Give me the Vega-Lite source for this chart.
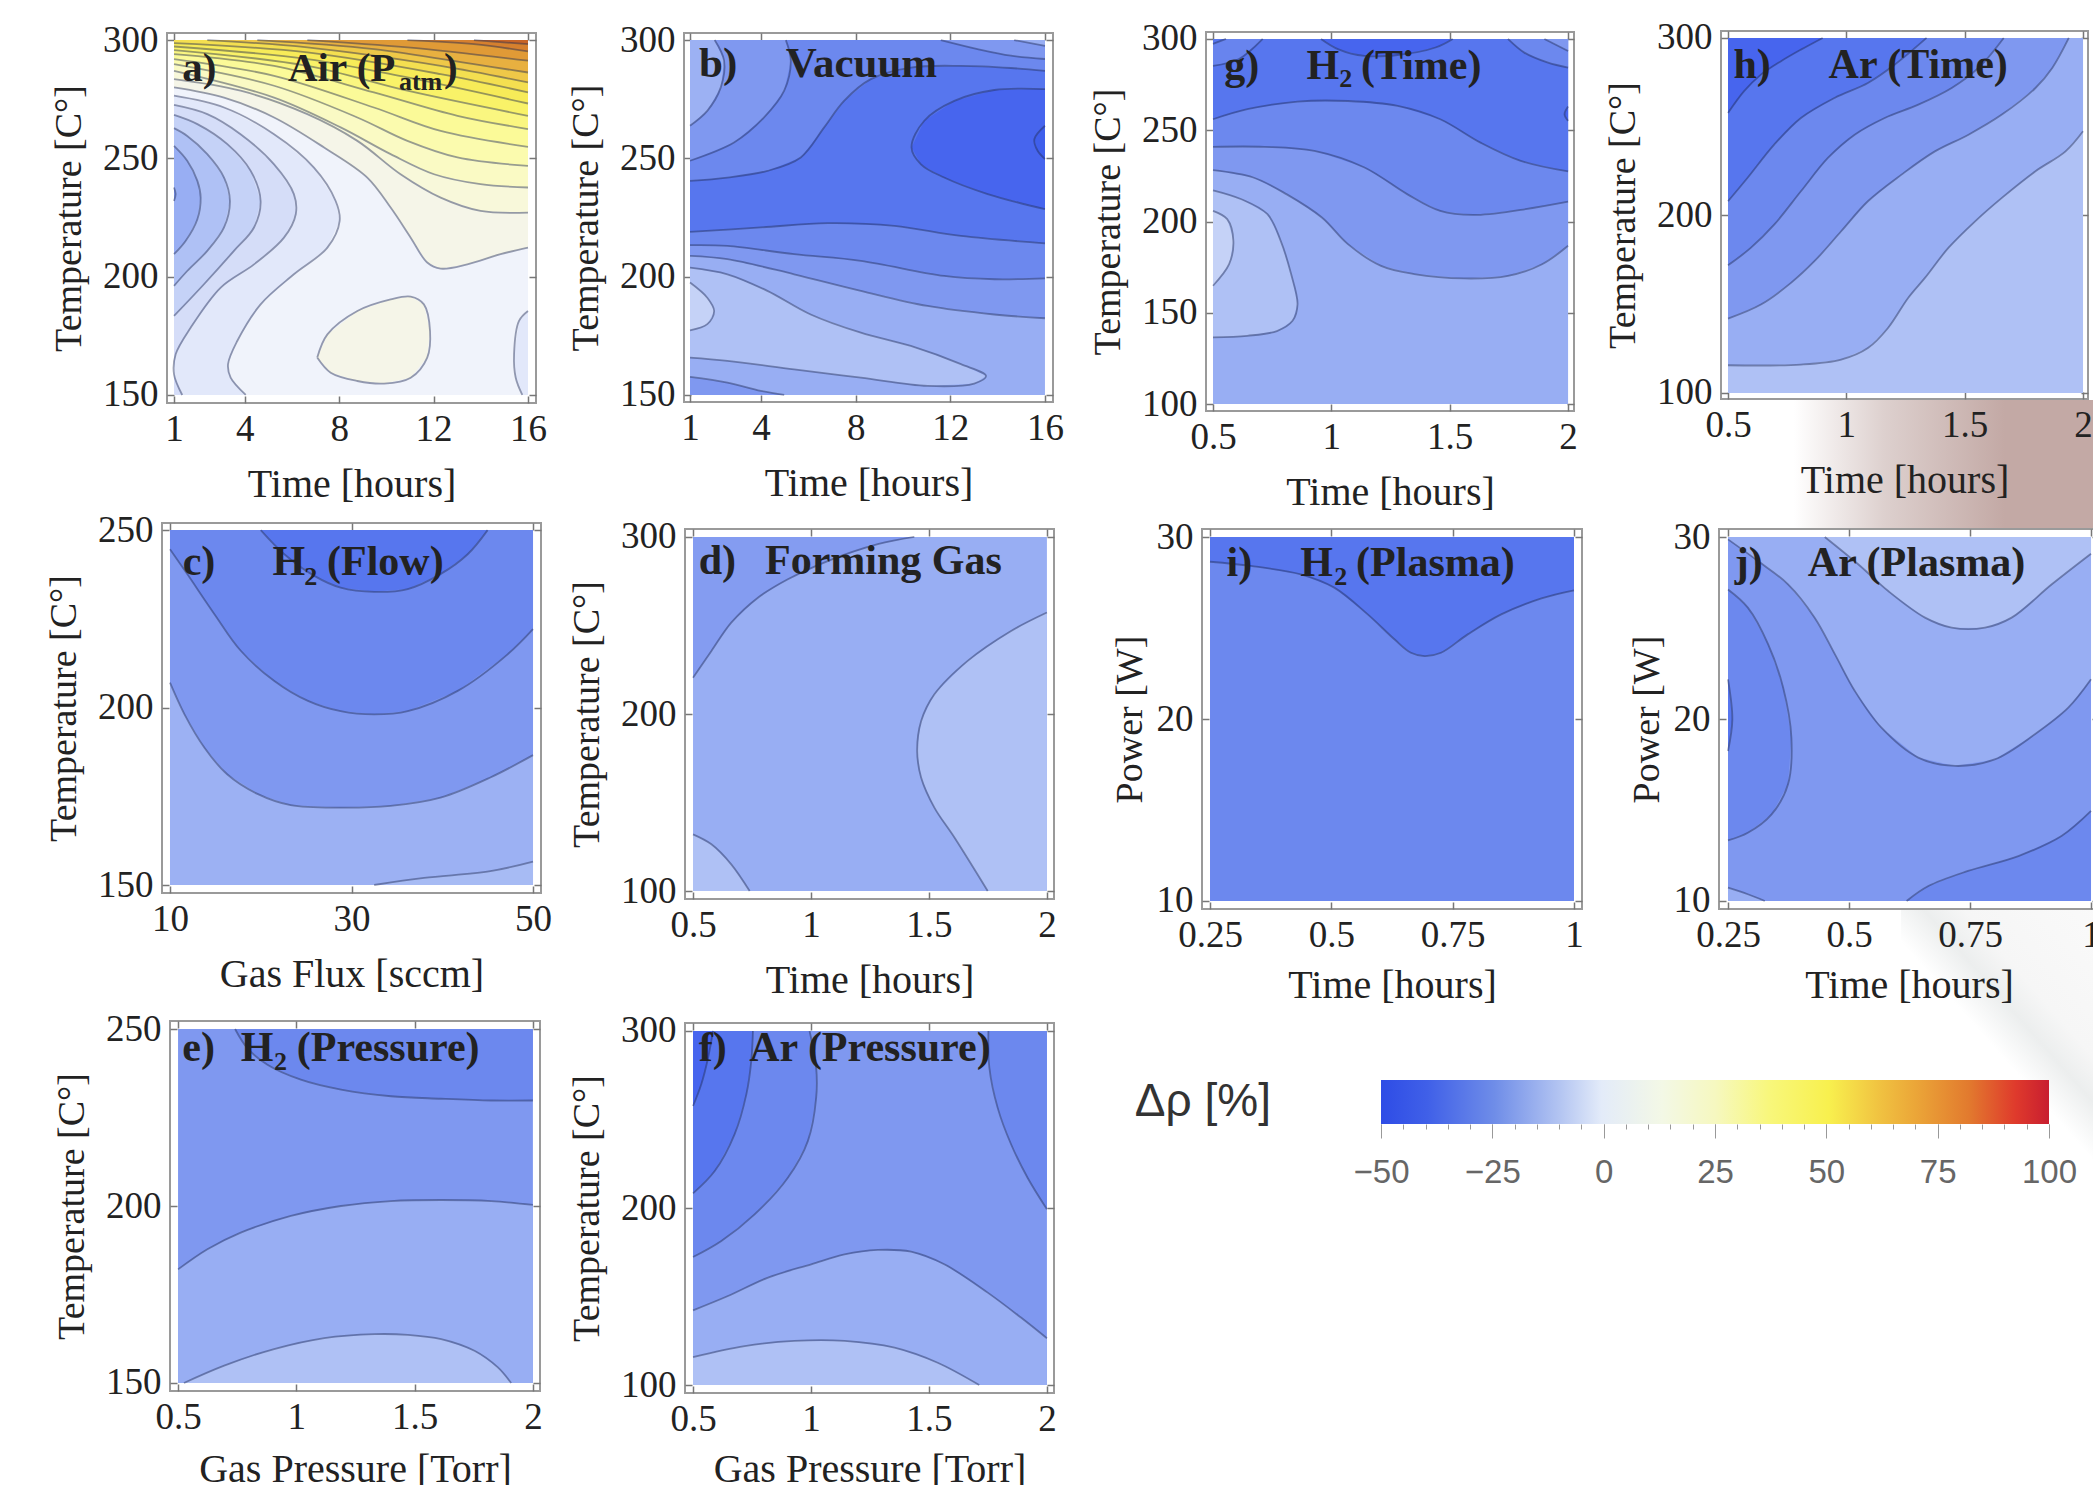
{"$schema":"https://vega.github.io/schema/vega-lite/v6.json","padding":0,"background":"white","bounds":"flush","spacing":0,
"config":{"view":{"stroke":"#9a9a9a","strokeWidth":2,"fill":"white"},"axisX":{"labelPadding":15,"titlePadding":17,"titleFontSize":40},"axisY":{"labelPadding":16,"titlePadding":14,"titleFontSize":38},"axis":{"domain":false,"grid":false,"labelFont":"Liberation Serif","labelFontSize":37,"labelColor":"#222222","titleFont":"Liberation Serif","titleFontWeight":"normal","titleColor":"#222222","tickColor":"#777777","tickWidth":1.5,"tickSize":-7,"labelOverlap":false,"labelFlush":false}},
"datasets":{"z":[{"z":0}],
"a":[
{"r":1,"v":-2,"x":1,"y":150,"c":1},{"r":1,"v":-2,"x":16,"y":150,"c":1},{"r":1,"v":-2,"x":16,"y":300,"c":1},{"r":1,"v":-2,"x":1,"y":300,"c":1},
{"r":2,"v":-5,"x":1,"y":276.5},{"r":2,"v":-5,"x":3.12,"y":271.5},{"r":2,"v":-5,"x":5.24,"y":260.2},{"r":2,"v":-5,"x":6.93,"y":246.1},{"r":2,"v":-5,"x":7.85,"y":232},{"r":2,"v":-5,"x":8.02,"y":223.6},{"r":2,"v":-5,"x":7.5,"y":212.3},{"r":2,"v":-5,"x":6.08,"y":201},{"r":2,"v":-5,"x":4.67,"y":188.3},{"r":2,"v":-5,"x":3.68,"y":172.8},{"r":2,"v":-5,"x":3.29,"y":163},{"r":2,"v":-5,"x":3.4,"y":157.3},{"r":2,"v":-5,"x":4.04,"y":150},{"r":2,"v":-5,"x":1,"y":150,"c":1},
{"r":3,"v":-8,"x":1,"y":272.6},{"r":3,"v":-8,"x":2.41,"y":268.7},{"r":3,"v":-8,"x":3.82,"y":260.2},{"r":3,"v":-8,"x":5.24,"y":247.5},{"r":3,"v":-8,"x":6.08,"y":234.9},{"r":3,"v":-8,"x":6.16,"y":226.4},{"r":3,"v":-8,"x":5.66,"y":216.5},{"r":3,"v":-8,"x":4.39,"y":205.2},{"r":3,"v":-8,"x":2.98,"y":195.4},{"r":3,"v":-8,"x":1.71,"y":178.5},{"r":3,"v":-8,"x":1.07,"y":167.2},{"r":3,"v":-8,"x":1,"y":158.7},{"r":3,"v":-8,"x":1.35,"y":150},{"r":3,"v":-8,"x":1,"y":150,"c":1},
{"r":4,"v":-11,"x":1,"y":268.4},{"r":4,"v":-11,"x":1.99,"y":264.5},{"r":4,"v":-11,"x":3.26,"y":256},{"r":4,"v":-11,"x":4.25,"y":244.7},{"r":4,"v":-11,"x":4.67,"y":232},{"r":4,"v":-11,"x":4.39,"y":220.8},{"r":4,"v":-11,"x":3.54,"y":210.9},{"r":4,"v":-11,"x":2.27,"y":196.8},{"r":4,"v":-11,"x":1,"y":183.4},
{"r":5,"v":-16,"x":1,"y":262.8},{"r":5,"v":-16,"x":1.56,"y":259.5},{"r":5,"v":-16,"x":2.41,"y":251.8},{"r":5,"v":-16,"x":3.12,"y":241.9},{"r":5,"v":-16,"x":3.37,"y":232},{"r":5,"v":-16,"x":3.12,"y":220.8},{"r":5,"v":-16,"x":2.41,"y":210.9},{"r":5,"v":-16,"x":1.56,"y":202.4},{"r":5,"v":-16,"x":1,"y":196.1},
{"r":6,"v":-22,"x":1,"y":255.3},{"r":6,"v":-22,"x":1.56,"y":249},{"r":6,"v":-22,"x":1.99,"y":240.5},{"r":6,"v":-22,"x":2.13,"y":233.4},{"r":6,"v":-22,"x":1.99,"y":224.3},{"r":6,"v":-22,"x":1.49,"y":215.1},{"r":6,"v":-22,"x":1,"y":209.5},
{"r":7,"v":-27,"x":1,"y":237.7},{"r":7,"v":-27,"x":1.07,"y":234.9},{"r":7,"v":-27,"x":1,"y":232},
{"r":8,"v":3,"x":1,"y":280},{"r":8,"v":3,"x":3.12,"y":275.7},{"r":8,"v":3,"x":5.24,"y":267.3},{"r":8,"v":3,"x":7.36,"y":254.6},{"r":8,"v":3,"x":9.19,"y":241.9},{"r":8,"v":3,"x":10.18,"y":229.2},{"r":8,"v":3,"x":11.03,"y":216.5},{"r":8,"v":3,"x":11.73,"y":206},{"r":8,"v":3,"x":12.3,"y":203.4},{"r":8,"v":3,"x":13.43,"y":205.2},{"r":8,"v":3,"x":14.84,"y":209.5},{"r":8,"v":3,"x":16,"y":212.3},{"r":8,"v":3,"x":16,"y":300,"c":1},{"r":8,"v":3,"x":1,"y":300,"c":1},
{"r":9,"v":8,"x":1,"y":283.5},{"r":9,"v":8,"x":3.82,"y":278.6},{"r":9,"v":8,"x":6.65,"y":268.7},{"r":9,"v":8,"x":8.77,"y":257.4},{"r":9,"v":8,"x":10.6,"y":243.3},{"r":9,"v":8,"x":12.3,"y":233.4},{"r":9,"v":8,"x":13.99,"y":227.8},{"r":9,"v":8,"x":16,"y":227.1},{"r":9,"v":8,"x":16,"y":300,"c":1},{"r":9,"v":8,"x":1,"y":300,"c":1},
{"r":10,"v":13,"x":1,"y":287},{"r":10,"v":13,"x":5.24,"y":275.7},{"r":10,"v":13,"x":8.06,"y":263.1},{"r":10,"v":13,"x":10.18,"y":251.8},{"r":10,"v":13,"x":12.02,"y":243.3},{"r":10,"v":13,"x":13.99,"y":239.1},{"r":10,"v":13,"x":16,"y":237.7},{"r":10,"v":13,"x":16,"y":300,"c":1},{"r":10,"v":13,"x":1,"y":300,"c":1},
{"r":11,"v":18,"x":1,"y":289.8},{"r":11,"v":18,"x":5.24,"y":280.7},{"r":11,"v":18,"x":8.77,"y":267.3},{"r":11,"v":18,"x":10.89,"y":257.4},{"r":11,"v":18,"x":13.01,"y":250.4},{"r":11,"v":18,"x":16,"y":246.8},{"r":11,"v":18,"x":16,"y":300,"c":1},{"r":11,"v":18,"x":1,"y":300,"c":1},
{"r":12,"v":23,"x":1,"y":292},{"r":12,"v":23,"x":5.24,"y":284.9},{"r":12,"v":23,"x":9.47,"y":271.5},{"r":12,"v":23,"x":12.3,"y":261.6},{"r":12,"v":23,"x":16,"y":254.9},{"r":12,"v":23,"x":16,"y":300,"c":1},{"r":12,"v":23,"x":1,"y":300,"c":1},
{"r":13,"v":28,"x":1,"y":294.1},{"r":13,"v":28,"x":5.24,"y":289.1},{"r":13,"v":28,"x":9.47,"y":277.9},{"r":13,"v":28,"x":13.01,"y":268},{"r":13,"v":28,"x":16,"y":262.4},{"r":13,"v":28,"x":16,"y":300,"c":1},{"r":13,"v":28,"x":1,"y":300,"c":1},
{"r":14,"v":33,"x":1,"y":295.8},{"r":14,"v":33,"x":6.65,"y":289.1},{"r":14,"v":33,"x":10.89,"y":278.6},{"r":14,"v":33,"x":16,"y":268},{"r":14,"v":33,"x":16,"y":300,"c":1},{"r":14,"v":33,"x":1,"y":300,"c":1},
{"r":15,"v":38,"x":1,"y":297.3},{"r":15,"v":38,"x":6.65,"y":292},{"r":15,"v":38,"x":10.89,"y":284.2},{"r":15,"v":38,"x":16,"y":273.2},{"r":15,"v":38,"x":16,"y":300,"c":1},{"r":15,"v":38,"x":1,"y":300,"c":1},
{"r":16,"v":43,"x":1,"y":298.7},{"r":16,"v":43,"x":6.65,"y":294.8},{"r":16,"v":43,"x":12.3,"y":285.6},{"r":16,"v":43,"x":16,"y":277.9},{"r":16,"v":43,"x":16,"y":300,"c":1},{"r":16,"v":43,"x":1,"y":300,"c":1},
{"r":17,"v":48,"x":2.41,"y":300},{"r":17,"v":48,"x":6.65,"y":296.9},{"r":17,"v":48,"x":12.3,"y":289.1},{"r":17,"v":48,"x":16,"y":282.1},{"r":17,"v":48,"x":16,"y":300,"c":1},
{"r":18,"v":53,"x":4.53,"y":300},{"r":18,"v":53,"x":9.47,"y":296.2},{"r":18,"v":53,"x":13.71,"y":289.8},{"r":18,"v":53,"x":16,"y":286.3},{"r":18,"v":53,"x":16,"y":300,"c":1},
{"r":19,"v":58,"x":6.65,"y":300},{"r":19,"v":58,"x":10.89,"y":296.9},{"r":19,"v":58,"x":16,"y":291.3},{"r":19,"v":58,"x":16,"y":300,"c":1},
{"r":20,"v":63,"x":10.89,"y":300},{"r":20,"v":63,"x":13.71,"y":298.3},{"r":20,"v":63,"x":16,"y":295.2},{"r":20,"v":63,"x":16,"y":300,"c":1},
{"r":21,"v":68,"x":13.71,"y":300},{"r":21,"v":68,"x":16,"y":298.3},{"r":21,"v":68,"x":16,"y":300,"c":1},
{"r":22,"v":3,"x":7.07,"y":165.8},{"r":22,"v":3,"x":7.5,"y":175.6},{"r":22,"v":3,"x":8.77,"y":185.5},{"r":22,"v":3,"x":10.18,"y":190.4},{"r":22,"v":3,"x":11.03,"y":191.6},{"r":22,"v":3,"x":11.59,"y":188.3},{"r":22,"v":3,"x":11.85,"y":177},{"r":22,"v":3,"x":11.73,"y":165.8},{"r":22,"v":3,"x":11.03,"y":157.3},{"r":22,"v":3,"x":9.9,"y":154.8},{"r":22,"v":3,"x":8.77,"y":155.9},{"r":22,"v":3,"x":7.64,"y":159.4},{"r":22,"v":3,"x":7.07,"y":165.8},
{"r":23,"v":-5,"x":16,"y":185.5},{"r":23,"v":-5,"x":15.62,"y":181.3},{"r":23,"v":-5,"x":15.41,"y":167.2},{"r":23,"v":-5,"x":15.48,"y":157.3},{"r":23,"v":-5,"x":15.76,"y":150},{"r":23,"v":-5,"x":16,"y":150,"c":1}],
"b":[
{"r":1,"v":-22,"x":1,"y":150,"c":1},{"r":1,"v":-22,"x":16,"y":150,"c":1},{"r":1,"v":-22,"x":16,"y":300,"c":1},{"r":1,"v":-22,"x":1,"y":300,"c":1},
{"r":2,"v":-27,"x":1,"y":208.8},{"r":2,"v":-27,"x":2.58,"y":207.4},{"r":2,"v":-27,"x":5.4,"y":201},{"r":2,"v":-27,"x":8.22,"y":194},{"r":2,"v":-27,"x":11.04,"y":187.6},{"r":2,"v":-27,"x":13.86,"y":184},{"r":2,"v":-27,"x":16,"y":182.4},{"r":2,"v":-27,"x":16,"y":300,"c":1},{"r":2,"v":-27,"x":1,"y":300,"c":1},
{"r":3,"v":-33,"x":1,"y":213.3},{"r":3,"v":-33,"x":2.58,"y":213},{"r":3,"v":-33,"x":5.4,"y":209.5},{"r":3,"v":-33,"x":8.22,"y":206.7},{"r":3,"v":-33,"x":11.74,"y":200.3},{"r":3,"v":-33,"x":13.86,"y":198.9},{"r":3,"v":-33,"x":16,"y":199.3},{"r":3,"v":-33,"x":16,"y":300,"c":1},{"r":3,"v":-33,"x":1,"y":300,"c":1},
{"r":4,"v":-38,"x":1,"y":218.9},{"r":4,"v":-38,"x":3.99,"y":220.8},{"r":4,"v":-38,"x":6.81,"y":222.6},{"r":4,"v":-38,"x":9.63,"y":221.5},{"r":4,"v":-38,"x":12.45,"y":217.2},{"r":4,"v":-38,"x":16,"y":214.1},{"r":4,"v":-38,"x":16,"y":300,"c":1},{"r":4,"v":-38,"x":1,"y":300,"c":1},
{"r":5,"v":-33,"x":1,"y":240.5},{"r":5,"v":-33,"x":2.58,"y":241.9},{"r":5,"v":-33,"x":4.27,"y":244.7},{"r":5,"v":-33,"x":5.68,"y":250.4},{"r":5,"v":-33,"x":6.67,"y":263.1},{"r":5,"v":-33,"x":7.51,"y":274.3},{"r":5,"v":-33,"x":8.64,"y":283.5},{"r":5,"v":-33,"x":10.33,"y":288.4},{"r":5,"v":-33,"x":12.45,"y":289.1},{"r":5,"v":-33,"x":14.56,"y":288.2},{"r":5,"v":-33,"x":16,"y":287},{"r":5,"v":-33,"x":16,"y":300,"c":1},{"r":5,"v":-33,"x":1,"y":300,"c":1},
{"r":6,"v":-27,"x":5.05,"y":300},{"r":6,"v":-27,"x":5.26,"y":291.3},{"r":6,"v":-27,"x":4.98,"y":278.6},{"r":6,"v":-27,"x":4.13,"y":267.3},{"r":6,"v":-27,"x":2.86,"y":256.7},{"r":6,"v":-27,"x":1,"y":249},{"r":6,"v":-27,"x":1,"y":300,"c":1},
{"r":7,"v":-21,"x":2.04,"y":300},{"r":7,"v":-21,"x":2.44,"y":291.3},{"r":7,"v":-21,"x":2.3,"y":280},{"r":7,"v":-21,"x":1.73,"y":270.1},{"r":7,"v":-21,"x":1,"y":263.8},{"r":7,"v":-21,"x":1,"y":300,"c":1},
{"r":8,"v":-27,"x":11.6,"y":300},{"r":8,"v":-27,"x":13.15,"y":296.2},{"r":8,"v":-27,"x":14.56,"y":293.4},{"r":8,"v":-27,"x":16,"y":292},{"r":8,"v":-27,"x":16,"y":300,"c":1},
{"r":9,"v":-22,"x":14.7,"y":300},{"r":9,"v":-22,"x":16,"y":297.6},{"r":9,"v":-22,"x":16,"y":300,"c":1},
{"r":10,"v":-44,"x":16,"y":279.3},{"r":10,"v":-44,"x":13.86,"y":278.9},{"r":10,"v":-44,"x":12.17,"y":274.3},{"r":10,"v":-44,"x":10.9,"y":265.9},{"r":10,"v":-44,"x":10.36,"y":254.6},{"r":10,"v":-44,"x":10.76,"y":247.5},{"r":10,"v":-44,"x":11.74,"y":241.9},{"r":10,"v":-44,"x":13.58,"y":234.9},{"r":10,"v":-44,"x":16,"y":228.5},
{"r":11,"v":-48,"x":16,"y":263.8},{"r":11,"v":-48,"x":15.55,"y":258.1},{"r":11,"v":-48,"x":15.69,"y":253.2},{"r":11,"v":-48,"x":16,"y":249.7},
{"r":12,"v":-16,"x":1,"y":203.8},{"r":12,"v":-16,"x":2.58,"y":201},{"r":12,"v":-16,"x":4.27,"y":194},{"r":12,"v":-16,"x":6.1,"y":184},{"r":12,"v":-16,"x":8.22,"y":176.3},{"r":12,"v":-16,"x":10.33,"y":170.7},{"r":12,"v":-16,"x":12.45,"y":163},{"r":12,"v":-16,"x":13.51,"y":158},{"r":12,"v":-16,"x":13.01,"y":154.8},{"r":12,"v":-16,"x":11.04,"y":153.8},{"r":12,"v":-16,"x":8.22,"y":157.3},{"r":12,"v":-16,"x":5.4,"y":160.8},{"r":12,"v":-16,"x":2.58,"y":164.4},{"r":12,"v":-16,"x":1,"y":165.8},
{"r":13,"v":-11,"x":1,"y":197.5},{"r":13,"v":-11,"x":1.73,"y":191.1},{"r":13,"v":-11,"x":2.02,"y":185.5},{"r":13,"v":-11,"x":1.73,"y":179.9},{"r":13,"v":-11,"x":1,"y":177.3},
{"r":14,"v":-27,"x":1,"y":157.6},{"r":14,"v":-27,"x":2.58,"y":155.2},{"r":14,"v":-27,"x":3.99,"y":151.7},{"r":14,"v":-27,"x":4.98,"y":150},{"r":14,"v":-27,"x":1,"y":150,"c":1}],
"g":[
{"r":1,"v":-22,"x":0.5,"y":100,"c":1},{"r":1,"v":-22,"x":2,"y":100,"c":1},{"r":1,"v":-22,"x":2,"y":300,"c":1},{"r":1,"v":-22,"x":0.5,"y":300,"c":1},
{"r":2,"v":-27,"x":0.5,"y":228.1},{"r":2,"v":-27,"x":0.67,"y":224.1},{"r":2,"v":-27,"x":0.81,"y":215},{"r":2,"v":-27,"x":0.96,"y":202.2},{"r":2,"v":-27,"x":1.07,"y":187.6},{"r":2,"v":-27,"x":1.21,"y":175.7},{"r":2,"v":-27,"x":1.35,"y":171.2},{"r":2,"v":-27,"x":1.56,"y":168.8},{"r":2,"v":-27,"x":1.746,"y":170.2},{"r":2,"v":-27,"x":1.89,"y":176.6},{"r":2,"v":-27,"x":2,"y":186.7},{"r":2,"v":-27,"x":2,"y":300,"c":1},{"r":2,"v":-27,"x":0.5,"y":300,"c":1},
{"r":3,"v":-33,"x":0.5,"y":240.9},{"r":3,"v":-33,"x":0.716,"y":240.9},{"r":3,"v":-33,"x":0.928,"y":238.7},{"r":3,"v":-33,"x":1.14,"y":229.6},{"r":3,"v":-33,"x":1.32,"y":215},{"r":3,"v":-33,"x":1.46,"y":205.8},{"r":3,"v":-33,"x":1.6,"y":203.6},{"r":3,"v":-33,"x":1.8,"y":206.4},{"r":3,"v":-33,"x":2,"y":210.9},{"r":3,"v":-33,"x":2,"y":300,"c":1},{"r":3,"v":-33,"x":0.5,"y":300,"c":1},
{"r":4,"v":-38,"x":0.5,"y":256},{"r":4,"v":-38,"x":0.645,"y":261.5},{"r":4,"v":-38,"x":0.857,"y":265.7},{"r":4,"v":-38,"x":1.07,"y":266},{"r":4,"v":-38,"x":1.28,"y":263.3},{"r":4,"v":-38,"x":1.46,"y":256},{"r":4,"v":-38,"x":1.63,"y":243.2},{"r":4,"v":-38,"x":1.8,"y":233.2},{"r":4,"v":-38,"x":2,"y":227.4},{"r":4,"v":-38,"x":2,"y":300,"c":1},{"r":4,"v":-38,"x":0.5,"y":300,"c":1},
{"r":5,"v":-44,"x":0.956,"y":300},{"r":5,"v":-44,"x":1.03,"y":294.3},{"r":5,"v":-44,"x":1.14,"y":290.7},{"r":5,"v":-44,"x":1.28,"y":291.2},{"r":5,"v":-44,"x":1.44,"y":295.3},{"r":5,"v":-44,"x":1.513,"y":300},
{"r":6,"v":-33,"x":1.746,"y":300},{"r":6,"v":-33,"x":1.815,"y":292.5},{"r":6,"v":-33,"x":1.915,"y":287},{"r":6,"v":-33,"x":2,"y":284.3},{"r":6,"v":-33,"x":2,"y":300,"c":1},
{"r":7,"v":-27,"x":1.9,"y":300},{"r":7,"v":-27,"x":2,"y":293.4},{"r":7,"v":-27,"x":2,"y":300,"c":1},
{"r":8,"v":-44,"x":2,"y":263},{"r":8,"v":-44,"x":1.985,"y":258.8},{"r":8,"v":-44,"x":2,"y":255.1},
{"r":9,"v":-16,"x":0.5,"y":217.1},{"r":9,"v":-16,"x":0.62,"y":212.2},{"r":9,"v":-16,"x":0.73,"y":204},{"r":9,"v":-16,"x":0.786,"y":189.4},{"r":9,"v":-16,"x":0.83,"y":171.2},{"r":9,"v":-16,"x":0.857,"y":154.7},{"r":9,"v":-16,"x":0.836,"y":145.6},{"r":9,"v":-16,"x":0.77,"y":140},{"r":9,"v":-16,"x":0.645,"y":137.4},{"r":9,"v":-16,"x":0.5,"y":136.5},
{"r":10,"v":-11,"x":0.5,"y":205.8},{"r":10,"v":-11,"x":0.56,"y":201.3},{"r":10,"v":-11,"x":0.586,"y":189.4},{"r":10,"v":-11,"x":0.568,"y":176.6},{"r":10,"v":-11,"x":0.5,"y":164.8},
{"r":11,"v":-34,"x":0.5,"y":285.2},{"r":11,"v":-34,"x":0.61,"y":289},{"r":11,"v":-34,"x":0.71,"y":300},{"r":11,"v":-34,"x":0.5,"y":300,"c":1},
{"r":12,"v":-38,"x":0.5,"y":297.3},{"r":12,"v":-38,"x":0.555,"y":300},{"r":12,"v":-38,"x":0.5,"y":300,"c":1}],
"h":[
{"r":1,"v":-16,"x":0.5,"y":100,"c":1},{"r":1,"v":-16,"x":2,"y":100,"c":1},{"r":1,"v":-16,"x":2,"y":300,"c":1},{"r":1,"v":-16,"x":0.5,"y":300,"c":1},
{"r":2,"v":-22,"x":0.5,"y":115.6},{"r":2,"v":-22,"x":0.808,"y":116},{"r":2,"v":-22,"x":0.978,"y":118.8},{"r":2,"v":-22,"x":1.091,"y":125.3},{"r":2,"v":-22,"x":1.176,"y":136.6},{"r":2,"v":-22,"x":1.261,"y":153.5},{"r":2,"v":-22,"x":1.332,"y":164.8},{"r":2,"v":-22,"x":1.431,"y":181.7},{"r":2,"v":-22,"x":1.544,"y":196.7},{"r":2,"v":-22,"x":1.657,"y":209.9},{"r":2,"v":-22,"x":1.799,"y":224.9},{"r":2,"v":-22,"x":1.926,"y":236.1},{"r":2,"v":-22,"x":2,"y":247.4},{"r":2,"v":-22,"x":2,"y":300,"c":1},{"r":2,"v":-22,"x":0.5,"y":300,"c":1},
{"r":3,"v":-27,"x":0.5,"y":141.9},{"r":3,"v":-27,"x":0.639,"y":149.8},{"r":3,"v":-27,"x":0.766,"y":162},{"r":3,"v":-27,"x":0.865,"y":174.2},{"r":3,"v":-27,"x":0.978,"y":191.1},{"r":3,"v":-27,"x":1.091,"y":208},{"r":3,"v":-27,"x":1.233,"y":223},{"r":3,"v":-27,"x":1.374,"y":236.1},{"r":3,"v":-27,"x":1.516,"y":245.5},{"r":3,"v":-27,"x":1.657,"y":256.8},{"r":3,"v":-27,"x":1.799,"y":271.8},{"r":3,"v":-27,"x":1.87,"y":283.1},{"r":3,"v":-27,"x":1.94,"y":300},{"r":3,"v":-27,"x":0.5,"y":300,"c":1},
{"r":4,"v":-33,"x":0.5,"y":171.9},{"r":4,"v":-33,"x":0.596,"y":181.7},{"r":4,"v":-33,"x":0.695,"y":194.8},{"r":4,"v":-33,"x":0.808,"y":213.6},{"r":4,"v":-33,"x":0.922,"y":232.4},{"r":4,"v":-33,"x":1.035,"y":245.5},{"r":4,"v":-33,"x":1.162,"y":254.9},{"r":4,"v":-33,"x":1.304,"y":262.4},{"r":4,"v":-33,"x":1.445,"y":271.8},{"r":4,"v":-33,"x":1.558,"y":283.1},{"r":4,"v":-33,"x":1.665,"y":300},{"r":4,"v":-33,"x":0.5,"y":300,"c":1},
{"r":5,"v":-38,"x":0.5,"y":208},{"r":5,"v":-38,"x":0.582,"y":221.1},{"r":5,"v":-38,"x":0.695,"y":239.9},{"r":5,"v":-38,"x":0.808,"y":254.9},{"r":5,"v":-38,"x":0.95,"y":266.2},{"r":5,"v":-38,"x":1.091,"y":274.6},{"r":5,"v":-38,"x":1.205,"y":285},{"r":5,"v":-38,"x":1.339,"y":300},{"r":5,"v":-38,"x":0.5,"y":300,"c":1},
{"r":6,"v":-44,"x":0.5,"y":257.7},{"r":6,"v":-44,"x":0.568,"y":270},{"r":6,"v":-44,"x":0.639,"y":279.3},{"r":6,"v":-44,"x":0.724,"y":286.9},{"r":6,"v":-44,"x":0.808,"y":293.4},{"r":6,"v":-44,"x":0.9,"y":300},{"r":6,"v":-44,"x":0.5,"y":300,"c":1}],
"c":[
{"r":1,"v":-21,"x":10,"y":150,"c":1},{"r":1,"v":-21,"x":50,"y":150,"c":1},{"r":1,"v":-21,"x":50,"y":250,"c":1},{"r":1,"v":-21,"x":10,"y":250,"c":1},
{"r":2,"v":-27,"x":10,"y":207},{"r":2,"v":-27,"x":11.6,"y":198.1},{"r":2,"v":-27,"x":13.8,"y":188.7},{"r":2,"v":-27,"x":16.3,"y":181.2},{"r":2,"v":-27,"x":19.7,"y":175.6},{"r":2,"v":-27,"x":23.3,"y":172.5},{"r":2,"v":-27,"x":28.8,"y":171.8},{"r":2,"v":-27,"x":34.3,"y":172.3},{"r":2,"v":-27,"x":39.8,"y":174.6},{"r":2,"v":-27,"x":45.3,"y":180.3},{"r":2,"v":-27,"x":50,"y":186.6},{"r":2,"v":-27,"x":50,"y":250,"c":1},{"r":2,"v":-27,"x":10,"y":250,"c":1},
{"r":3,"v":-33,"x":10,"y":244.6},{"r":3,"v":-33,"x":11.9,"y":237.6},{"r":3,"v":-33,"x":14.9,"y":226.3},{"r":3,"v":-33,"x":17.8,"y":216},{"r":3,"v":-33,"x":21.5,"y":207.5},{"r":3,"v":-33,"x":25.2,"y":201.9},{"r":3,"v":-33,"x":28.8,"y":199},{"r":3,"v":-33,"x":32.5,"y":198.1},{"r":3,"v":-33,"x":36.2,"y":199},{"r":3,"v":-33,"x":41.7,"y":204.7},{"r":3,"v":-33,"x":47.2,"y":215},{"r":3,"v":-33,"x":50,"y":222.1},{"r":3,"v":-33,"x":50,"y":250,"c":1},{"r":3,"v":-33,"x":10,"y":250,"c":1},
{"r":4,"v":-38,"x":20,"y":250},{"r":4,"v":-38,"x":22.6,"y":243.2},{"r":4,"v":-38,"x":25.9,"y":237.1},{"r":4,"v":-38,"x":28.8,"y":233.8},{"r":4,"v":-38,"x":32.5,"y":232.6},{"r":4,"v":-38,"x":36.2,"y":233.4},{"r":4,"v":-38,"x":39.8,"y":237.6},{"r":4,"v":-38,"x":42.8,"y":243.2},{"r":4,"v":-38,"x":45,"y":250},
{"r":5,"v":-18,"x":32.5,"y":150},{"r":5,"v":-18,"x":38,"y":152},{"r":5,"v":-18,"x":45.3,"y":153.9},{"r":5,"v":-18,"x":50,"y":156.6},{"r":5,"v":-18,"x":50,"y":150,"c":1}],
"d":[
{"r":1,"v":-22,"x":0.5,"y":100,"c":1},{"r":1,"v":-22,"x":2,"y":100,"c":1},{"r":1,"v":-22,"x":2,"y":300,"c":1},{"r":1,"v":-22,"x":0.5,"y":300,"c":1},
{"r":2,"v":-26,"x":0.5,"y":220.5},{"r":2,"v":-26,"x":0.578,"y":235.6},{"r":2,"v":-26,"x":0.662,"y":251.6},{"r":2,"v":-26,"x":0.775,"y":265.7},{"r":2,"v":-26,"x":0.902,"y":276.1},{"r":2,"v":-26,"x":1.071,"y":286.4},{"r":2,"v":-26,"x":1.283,"y":295.9},{"r":2,"v":-26,"x":1.438,"y":300},{"r":2,"v":-26,"x":0.5,"y":300,"c":1},
{"r":3,"v":-16,"x":2,"y":257.3},{"r":3,"v":-16,"x":1.848,"y":246.9},{"r":3,"v":-16,"x":1.664,"y":230},{"r":3,"v":-16,"x":1.523,"y":211.1},{"r":3,"v":-16,"x":1.467,"y":196},{"r":3,"v":-16,"x":1.45,"y":179.1},{"r":3,"v":-16,"x":1.467,"y":164},{"r":3,"v":-16,"x":1.523,"y":147.1},{"r":3,"v":-16,"x":1.608,"y":130.2},{"r":3,"v":-16,"x":1.749,"y":100},{"r":3,"v":-16,"x":2,"y":100,"c":1},
{"r":4,"v":-16,"x":0.5,"y":132},{"r":4,"v":-16,"x":0.578,"y":126.4},{"r":4,"v":-16,"x":0.662,"y":115.1},{"r":4,"v":-16,"x":0.74,"y":100},{"r":4,"v":-16,"x":0.5,"y":100,"c":1}],
"i":[
{"r":1,"v":-33,"x":0.25,"y":10,"c":1},{"r":1,"v":-33,"x":1,"y":10,"c":1},{"r":1,"v":-33,"x":1,"y":30,"c":1},{"r":1,"v":-33,"x":0.25,"y":30,"c":1},
{"r":2,"v":-38,"x":0.25,"y":28.64},{"r":2,"v":-38,"x":0.334,"y":28.41},{"r":2,"v":-38,"x":0.437,"y":27.95},{"r":2,"v":-38,"x":0.506,"y":27.22},{"r":2,"v":-38,"x":0.575,"y":25.75},{"r":2,"v":-38,"x":0.63,"y":24.38},{"r":2,"v":-38,"x":0.664,"y":23.64},{"r":2,"v":-38,"x":0.692,"y":23.46},{"r":2,"v":-38,"x":0.726,"y":23.64},{"r":2,"v":-38,"x":0.781,"y":24.65},{"r":2,"v":-38,"x":0.85,"y":25.75},{"r":2,"v":-38,"x":0.933,"y":26.63},{"r":2,"v":-38,"x":1,"y":27.07},{"r":2,"v":-38,"x":1,"y":30,"c":1},{"r":2,"v":-38,"x":0.25,"y":30,"c":1}],
"j":[
{"r":1,"v":-27,"x":0.25,"y":10,"c":1},{"r":1,"v":-27,"x":1,"y":10,"c":1},{"r":1,"v":-27,"x":1,"y":30,"c":1},{"r":1,"v":-27,"x":0.25,"y":30,"c":1},
{"r":2,"v":-22,"x":0.25,"y":29.87},{"r":2,"v":-22,"x":0.312,"y":28.68},{"r":2,"v":-22,"x":0.374,"y":27.4},{"r":2,"v":-22,"x":0.429,"y":25.57},{"r":2,"v":-22,"x":0.471,"y":23.55},{"r":2,"v":-22,"x":0.512,"y":21.54},{"r":2,"v":-22,"x":0.567,"y":19.52},{"r":2,"v":-22,"x":0.643,"y":17.88},{"r":2,"v":-22,"x":0.719,"y":17.42},{"r":2,"v":-22,"x":0.801,"y":17.78},{"r":2,"v":-22,"x":0.884,"y":19.16},{"r":2,"v":-22,"x":0.953,"y":20.62},{"r":2,"v":-22,"x":1,"y":22.18},{"r":2,"v":-22,"x":1,"y":30,"c":1},{"r":2,"v":-22,"x":0.25,"y":30,"c":1},
{"r":3,"v":-16,"x":0.45,"y":30},{"r":3,"v":-16,"x":0.519,"y":28.5},{"r":3,"v":-16,"x":0.581,"y":27.03},{"r":3,"v":-16,"x":0.657,"y":25.57},{"r":3,"v":-16,"x":0.712,"y":25.02},{"r":3,"v":-16,"x":0.781,"y":25.02},{"r":3,"v":-16,"x":0.836,"y":25.57},{"r":3,"v":-16,"x":0.919,"y":27.4},{"r":3,"v":-16,"x":1,"y":29.08},{"r":3,"v":-16,"x":1,"y":30,"c":1},
{"r":4,"v":-33,"x":0.25,"y":27.12},{"r":4,"v":-33,"x":0.291,"y":26.12},{"r":4,"v":-33,"x":0.333,"y":24.1},{"r":4,"v":-33,"x":0.364,"y":21.72},{"r":4,"v":-33,"x":0.381,"y":18.97},{"r":4,"v":-33,"x":0.374,"y":16.41},{"r":4,"v":-33,"x":0.34,"y":14.76},{"r":4,"v":-33,"x":0.291,"y":13.75},{"r":4,"v":-33,"x":0.25,"y":13.33},
{"r":5,"v":-38,"x":0.25,"y":22.18},{"r":5,"v":-38,"x":0.259,"y":19.98},{"r":5,"v":-38,"x":0.25,"y":18.24},
{"r":6,"v":-33,"x":0.619,"y":10},{"r":6,"v":-33,"x":0.664,"y":10.82},{"r":6,"v":-33,"x":0.746,"y":11.65},{"r":6,"v":-33,"x":0.85,"y":12.47},{"r":6,"v":-33,"x":0.939,"y":13.57},{"r":6,"v":-33,"x":1,"y":14.95},{"r":6,"v":-33,"x":1,"y":10,"c":1},
{"r":7,"v":-22,"x":0.25,"y":10.73},{"r":7,"v":-22,"x":0.291,"y":10.37},{"r":7,"v":-22,"x":0.326,"y":10},{"r":7,"v":-22,"x":0.25,"y":10,"c":1}],
"e":[
{"r":1,"v":-27,"x":0.5,"y":150,"c":1},{"r":1,"v":-27,"x":2,"y":150,"c":1},{"r":1,"v":-27,"x":2,"y":250,"c":1},{"r":1,"v":-27,"x":0.5,"y":250,"c":1},
{"r":2,"v":-22,"x":0.5,"y":182.1},{"r":2,"v":-22,"x":0.624,"y":187.8},{"r":2,"v":-22,"x":0.765,"y":192.5},{"r":2,"v":-22,"x":0.977,"y":197.2},{"r":2,"v":-22,"x":1.189,"y":200},{"r":2,"v":-22,"x":1.4,"y":201.4},{"r":2,"v":-22,"x":1.612,"y":201.7},{"r":2,"v":-22,"x":1.824,"y":201.4},{"r":2,"v":-22,"x":2,"y":200.3},{"r":2,"v":-22,"x":2,"y":150,"c":1},{"r":2,"v":-22,"x":0.5,"y":150,"c":1},
{"r":3,"v":-16,"x":0.525,"y":150},{"r":3,"v":-16,"x":0.695,"y":154.9},{"r":3,"v":-16,"x":0.906,"y":159.6},{"r":3,"v":-16,"x":1.118,"y":162.7},{"r":3,"v":-16,"x":1.33,"y":163.8},{"r":3,"v":-16,"x":1.471,"y":163.6},{"r":3,"v":-16,"x":1.612,"y":162.4},{"r":3,"v":-16,"x":1.753,"y":159.1},{"r":3,"v":-16,"x":1.852,"y":154.4},{"r":3,"v":-16,"x":1.908,"y":150},
{"r":4,"v":-33,"x":0.741,"y":250},{"r":4,"v":-33,"x":0.793,"y":244.6},{"r":4,"v":-33,"x":0.878,"y":239.9},{"r":4,"v":-33,"x":1.019,"y":235.7},{"r":4,"v":-33,"x":1.189,"y":232.9},{"r":4,"v":-33,"x":1.4,"y":231},{"r":4,"v":-33,"x":1.612,"y":230.3},{"r":4,"v":-33,"x":1.824,"y":229.8},{"r":4,"v":-33,"x":2,"y":229.8},{"r":4,"v":-33,"x":2,"y":250,"c":1}],
"f":[
{"r":1,"v":-27,"x":0.5,"y":100,"c":1},{"r":1,"v":-27,"x":2,"y":100,"c":1},{"r":1,"v":-27,"x":2,"y":300,"c":1},{"r":1,"v":-27,"x":0.5,"y":300,"c":1},
{"r":2,"v":-22,"x":0.5,"y":142.2},{"r":2,"v":-22,"x":0.648,"y":150.3},{"r":2,"v":-22,"x":0.818,"y":160.7},{"r":2,"v":-22,"x":1.001,"y":168.2},{"r":2,"v":-22,"x":1.142,"y":173.8},{"r":2,"v":-22,"x":1.283,"y":176.3},{"r":2,"v":-22,"x":1.424,"y":175.3},{"r":2,"v":-22,"x":1.565,"y":168.2},{"r":2,"v":-22,"x":1.749,"y":152.2},{"r":2,"v":-22,"x":1.89,"y":138.1},{"r":2,"v":-22,"x":2,"y":126.4},{"r":2,"v":-22,"x":2,"y":100,"c":1},{"r":2,"v":-22,"x":0.5,"y":100,"c":1},
{"r":3,"v":-16,"x":0.5,"y":115.8},{"r":3,"v":-16,"x":0.719,"y":122},{"r":3,"v":-16,"x":0.93,"y":124.9},{"r":3,"v":-16,"x":1.142,"y":124.9},{"r":3,"v":-16,"x":1.354,"y":121.1},{"r":3,"v":-16,"x":1.537,"y":112.6},{"r":3,"v":-16,"x":1.713,"y":100},{"r":3,"v":-16,"x":0.5,"y":100,"c":1},
{"r":4,"v":-33,"x":0.5,"y":172.3},{"r":4,"v":-33,"x":0.62,"y":181.4},{"r":4,"v":-33,"x":0.761,"y":196.4},{"r":4,"v":-33,"x":0.902,"y":217.1},{"r":4,"v":-33,"x":0.987,"y":237.9},{"r":4,"v":-33,"x":1.022,"y":262.3},{"r":4,"v":-33,"x":1.022,"y":279.3},{"r":4,"v":-33,"x":0.994,"y":300},{"r":4,"v":-33,"x":0.5,"y":300,"c":1},
{"r":5,"v":-38,"x":0.5,"y":208.3},{"r":5,"v":-38,"x":0.592,"y":220.9},{"r":5,"v":-38,"x":0.676,"y":241.6},{"r":5,"v":-38,"x":0.726,"y":264.2},{"r":5,"v":-38,"x":0.747,"y":283.1},{"r":5,"v":-38,"x":0.754,"y":300},{"r":5,"v":-38,"x":0.5,"y":300,"c":1},
{"r":6,"v":-44,"x":0.5,"y":257.6},{"r":6,"v":-44,"x":0.535,"y":269.9},{"r":6,"v":-44,"x":0.564,"y":284.9},{"r":6,"v":-44,"x":0.585,"y":300},{"r":6,"v":-44,"x":0.5,"y":300,"c":1},
{"r":7,"v":-33,"x":1.752,"y":300},{"r":7,"v":-33,"x":1.756,"y":279.3},{"r":7,"v":-33,"x":1.791,"y":256.7},{"r":7,"v":-33,"x":1.848,"y":236},{"r":7,"v":-33,"x":1.918,"y":217.1},{"r":7,"v":-33,"x":2,"y":199.3},{"r":7,"v":-33,"x":2,"y":300,"c":1}]
},
"vconcat":[
{"bounds":"flush","spacing":1792,"hconcat":[{"width":1,"height":1,"view":{"stroke":null,"fill":null},"data":{"name":"z"},"mark":{"type":"rule","opacity":0},"encoding":{}},{"bounds":"flush","spacing":398,"vconcat":[{"width":1,"height":1,"view":{"stroke":null,"fill":null},"data":{"name":"z"},"mark":{"type":"rule","opacity":0},"encoding":{}},{"width":301,"height":130,"view":{"stroke":null,"fill":null},"data":{"name":"z"},"mark":{"type":"rect","fill":{"gradient":"linear","x1":0,"y1":0,"x2":1,"y2":0,"stops":[{"offset":0,"color":"#ffffff"},{"offset":0.3,"color":"#DDD0CE"},{"offset":0.7,"color":"#C3A9A5"},{"offset":1,"color":"#C3A9A5"}]}},"encoding":{}}]}]},
{"bounds":"flush","spacing":1899,"hconcat":[{"width":1,"height":1,"view":{"stroke":null,"fill":null},"data":{"name":"z"},"mark":{"type":"rule","opacity":0},"encoding":{}},{"bounds":"flush","spacing":907,"vconcat":[{"width":1,"height":1,"view":{"stroke":null,"fill":null},"data":{"name":"z"},"mark":{"type":"rule","opacity":0},"encoding":{}},{"width":194,"height":392,"view":{"stroke":null,"fill":null},"data":{"name":"z"},"mark":{"type":"rect","fill":{"gradient":"linear","x1":0.45,"y1":0.6,"x2":0.9,"y2":-0.2,"stops":[{"offset":0,"color":"#ffffff"},{"offset":0.25,"color":"#ffffff"},{"offset":0.39,"color":"#ECEEEE"},{"offset":0.5,"color":"#F6F6F6"},{"offset":1,"color":"#FBFBFB"}]}},"encoding":{}}]}]},

{"bounds":"flush","spacing":165,"hconcat":[{"width":1,"height":1,"view":{"stroke":null,"fill":null},"data":{"name":"z"},"mark":{"type":"rule","opacity":0},"encoding":{}},{"bounds":"flush","spacing":31,"vconcat":[{"width":1,"height":1,"view":{"stroke":null,"fill":null},"data":{"name":"z"},"mark":{"type":"rule","opacity":0},"encoding":{}},
{"width":369,"height":370,"resolve":{"axis":{"x":"independent","y":"independent"}},"encoding":{"x":{"field":"x","type":"quantitative","scale":{"domain":[0.703,16.34]},"axis":null},"y":{"field":"y","type":"quantitative","scale":{"domain":[146.6,303]},"axis":null}},
"layer":[
{"data":{"name":"a"},"mark":{"type":"line","strokeOpacity":0},"encoding":{"x":{"field":"x","type":"quantitative","scale":{"domain":[0.703,16.34]},"axis":{"title":"Time [hours]","values":[1,4,8,12,16],"format":".2~f"}},"y":{"field":"y","type":"quantitative","scale":{"domain":[146.6,303]},"axis":{"title":"Temperature [C°]","values":[150,200,250,300],"format":".2~f"}},"fill":{"field":"v","type":"quantitative","legend":null,"scale":{"domain":[-48,-44,-38,-33,-27,-22,-16,-11,-8,-5,-2,3,8,13,18,23,28,33,38,43,48,53,58,63,68],"range":["#3F5FEC","#4765EE","#5776EE","#6C88EE","#7F98F0","#98AEF3","#AFC1F5","#C5D2F7","#D5DDF8","#E2E8FA","#F0F3FB","#F5F5E8","#F8F8DA","#FAFAC4","#FBFBAE","#FBFA98","#FAF680","#F9F268","#F7EB58","#F4DF50","#EFC848","#E8B040","#E09A36","#D6802E","#C86426"]}},"detail":{"field":"r"},"order":{"value":null}}},
{"data":{"name":"a"},"transform":[{"filter":"!datum.c"}],"mark":{"type":"line","interpolate":"catmull-rom","stroke":"#1f2a55","strokeOpacity":0.45,"strokeWidth":1.8},"encoding":{"detail":{"field":"r"},"order":{"value":null}}},
{"data":{"values":[{"x":1.35,"y":287.7,"t":"a)"},{"x":5.83,"y":287.7,"t":"Air (P"},{"x":12.44,"y":287.7,"t":")"}]},"mark":{"type":"text","align":"left","baseline":"middle","font":"Liberation Serif","fontWeight":"bold","fontSize":41,"color":"#222222"},"encoding":{"x":{"field":"x","type":"quantitative","scale":{"domain":[0.703,16.34]},"axis":{"orient":"top","labels":false,"title":null,"values":[1,4,8,12,16]}},"y":{"field":"y","type":"quantitative","scale":{"domain":[146.6,303]},"axis":{"orient":"right","labels":false,"title":null,"values":[150,200,250,300]}},"text":{"field":"t"}}},
{"data":{"values":[{"x":10.53,"y":282.1,"t":"atm"}]},"mark":{"type":"text","align":"left","baseline":"middle","font":"Liberation Serif","fontWeight":"bold","fontSize":26,"color":"#222222"},"encoding":{"text":{"field":"t"}}}
]}]}]},

{"bounds":"flush","spacing":682,"hconcat":[{"width":1,"height":1,"view":{"stroke":null,"fill":null},"data":{"name":"z"},"mark":{"type":"rule","opacity":0},"encoding":{}},{"bounds":"flush","spacing":31,"vconcat":[{"width":1,"height":1,"view":{"stroke":null,"fill":null},"data":{"name":"z"},"mark":{"type":"rule","opacity":0},"encoding":{}},
{"width":369,"height":369,"resolve":{"axis":{"x":"independent","y":"independent"}},"encoding":{"x":{"field":"x","type":"quantitative","scale":{"domain":[0.746,16.34]},"axis":null},"y":{"field":"y","type":"quantitative","scale":{"domain":[147,303]},"axis":null}},
"layer":[
{"data":{"name":"b"},"mark":{"type":"line","strokeOpacity":0},"encoding":{"x":{"field":"x","type":"quantitative","scale":{"domain":[0.746,16.34]},"axis":{"title":"Time [hours]","values":[1,4,8,12,16],"format":".2~f"}},"y":{"field":"y","type":"quantitative","scale":{"domain":[147,303]},"axis":{"title":"Temperature [C°]","values":[150,200,250,300],"format":".2~f"}},"fill":{"field":"v","type":"quantitative","legend":null,"scale":{"domain":[-48,-44,-38,-33,-27,-22,-16,-11,-8,-5,-2,3,8,13,18,23,28,33,38,43,48,53,58,63,68],"range":["#3F5FEC","#4765EE","#5776EE","#6C88EE","#7F98F0","#98AEF3","#AFC1F5","#C5D2F7","#D5DDF8","#E2E8FA","#F0F3FB","#F5F5E8","#F8F8DA","#FAFAC4","#FBFBAE","#FBFA98","#FAF680","#F9F268","#F7EB58","#F4DF50","#EFC848","#E8B040","#E09A36","#D6802E","#C86426"]}},"detail":{"field":"r"},"order":{"value":null}}},
{"data":{"name":"b"},"transform":[{"filter":"!datum.c"}],"mark":{"type":"line","interpolate":"catmull-rom","stroke":"#1f2a55","strokeOpacity":0.45,"strokeWidth":1.8},"encoding":{"detail":{"field":"r"},"order":{"value":null}}},
{"data":{"values":[{"x":1.38,"y":289.8,"t":"b)"},{"x":5.05,"y":289.8,"t":"Vacuum"}]},"mark":{"type":"text","align":"left","baseline":"middle","font":"Liberation Serif","fontWeight":"bold","fontSize":43,"color":"#222222"},"encoding":{"x":{"field":"x","type":"quantitative","scale":{"domain":[0.746,16.34]},"axis":{"orient":"top","labels":false,"title":null,"values":[1,4,8,12,16]}},"y":{"field":"y","type":"quantitative","scale":{"domain":[147,303]},"axis":{"orient":"right","labels":false,"title":null,"values":[150,200,250,300]}},"text":{"field":"t"}}}
]}]}]},

{"bounds":"flush","spacing":1204,"hconcat":[{"width":1,"height":1,"view":{"stroke":null,"fill":null},"data":{"name":"z"},"mark":{"type":"rule","opacity":0},"encoding":{}},{"bounds":"flush","spacing":30,"vconcat":[{"width":1,"height":1,"view":{"stroke":null,"fill":null},"data":{"name":"z"},"mark":{"type":"rule","opacity":0},"encoding":{}},
{"width":368,"height":379,"resolve":{"axis":{"x":"independent","y":"independent"}},"encoding":{"x":{"field":"x","type":"quantitative","scale":{"domain":[0.4704,2.025]},"axis":null},"y":{"field":"y","type":"quantitative","scale":{"domain":[96.2,303.8]},"axis":null}},
"layer":[
{"data":{"name":"g"},"mark":{"type":"line","strokeOpacity":0},"encoding":{"x":{"field":"x","type":"quantitative","scale":{"domain":[0.4704,2.025]},"axis":{"title":"Time [hours]","values":[0.5,1,1.5,2],"format":".2~f"}},"y":{"field":"y","type":"quantitative","scale":{"domain":[96.2,303.8]},"axis":{"title":"Temperature [C°]","values":[100,150,200,250,300],"format":".2~f"}},"fill":{"field":"v","type":"quantitative","legend":null,"scale":{"domain":[-48,-44,-38,-33,-27,-22,-16,-11,-8,-5,-2,3,8,13,18,23,28,33,38,43,48,53,58,63,68],"range":["#3F5FEC","#4765EE","#5776EE","#6C88EE","#7F98F0","#98AEF3","#AFC1F5","#C5D2F7","#D5DDF8","#E2E8FA","#F0F3FB","#F5F5E8","#F8F8DA","#FAFAC4","#FBFBAE","#FBFA98","#FAF680","#F9F268","#F7EB58","#F4DF50","#EFC848","#E8B040","#E09A36","#D6802E","#C86426"]}},"detail":{"field":"r"},"order":{"value":null}}},
{"data":{"name":"g"},"transform":[{"filter":"!datum.c"}],"mark":{"type":"line","interpolate":"catmull-rom","stroke":"#1f2a55","strokeOpacity":0.45,"strokeWidth":1.8},"encoding":{"detail":{"field":"r"},"order":{"value":null}}},
{"data":{"values":[{"x":0.547,"y":285.2,"t":"g)"},{"x":0.895,"y":285.2,"t":"H"},{"x":1.125,"y":285.2,"t":"(Time)"}]},"mark":{"type":"text","align":"left","baseline":"middle","font":"Liberation Serif","fontWeight":"bold","fontSize":42,"color":"#222222"},"encoding":{"x":{"field":"x","type":"quantitative","scale":{"domain":[0.4704,2.025]},"axis":{"orient":"top","labels":false,"title":null,"values":[0.5,1,1.5,2]}},"y":{"field":"y","type":"quantitative","scale":{"domain":[96.2,303.8]},"axis":{"orient":"right","labels":false,"title":null,"values":[100,150,200,250,300]}},"text":{"field":"t"}}},
{"data":{"values":[{"x":1.033,"y":277.9,"t":"2"}]},"mark":{"type":"text","align":"left","baseline":"middle","font":"Liberation Serif","fontWeight":"bold","fontSize":26,"color":"#222222"},"encoding":{"text":{"field":"t"}}}
]}]}]},

{"bounds":"flush","spacing":1719,"hconcat":[{"width":1,"height":1,"view":{"stroke":null,"fill":null},"data":{"name":"z"},"mark":{"type":"rule","opacity":0},"encoding":{}},{"bounds":"flush","spacing":29,"vconcat":[{"width":1,"height":1,"view":{"stroke":null,"fill":null},"data":{"name":"z"},"mark":{"type":"rule","opacity":0},"encoding":{}},
{"width":367,"height":368,"resolve":{"axis":{"x":"independent","y":"independent"}},"encoding":{"x":{"field":"x","type":"quantitative","scale":{"domain":[0.4704,2.021]},"axis":null},"y":{"field":"y","type":"quantitative","scale":{"domain":[96.6,303.9]},"axis":null}},
"layer":[
{"data":{"name":"h"},"mark":{"type":"line","strokeOpacity":0},"encoding":{"x":{"field":"x","type":"quantitative","scale":{"domain":[0.4704,2.021]},"axis":{"title":"Time [hours]","values":[0.5,1,1.5,2],"format":".2~f"}},"y":{"field":"y","type":"quantitative","scale":{"domain":[96.6,303.9]},"axis":{"title":"Temperature [C°]","values":[100,200,300],"format":".2~f"}},"fill":{"field":"v","type":"quantitative","legend":null,"scale":{"domain":[-48,-44,-38,-33,-27,-22,-16,-11,-8,-5,-2,3,8,13,18,23,28,33,38,43,48,53,58,63,68],"range":["#3F5FEC","#4765EE","#5776EE","#6C88EE","#7F98F0","#98AEF3","#AFC1F5","#C5D2F7","#D5DDF8","#E2E8FA","#F0F3FB","#F5F5E8","#F8F8DA","#FAFAC4","#FBFBAE","#FBFA98","#FAF680","#F9F268","#F7EB58","#F4DF50","#EFC848","#E8B040","#E09A36","#D6802E","#C86426"]}},"detail":{"field":"r"},"order":{"value":null}}},
{"data":{"name":"h"},"transform":[{"filter":"!datum.c"}],"mark":{"type":"line","interpolate":"catmull-rom","stroke":"#1f2a55","strokeOpacity":0.45,"strokeWidth":1.8},"encoding":{"detail":{"field":"r"},"order":{"value":null}}},
{"data":{"values":[{"x":0.523,"y":285,"t":"h)"},{"x":0.925,"y":285,"t":"Ar (Time)"}]},"mark":{"type":"text","align":"left","baseline":"middle","font":"Liberation Serif","fontWeight":"bold","fontSize":42,"color":"#222222"},"encoding":{"x":{"field":"x","type":"quantitative","scale":{"domain":[0.4704,2.021]},"axis":{"orient":"top","labels":false,"title":null,"values":[0.5,1,1.5,2]}},"y":{"field":"y","type":"quantitative","scale":{"domain":[96.6,303.9]},"axis":{"orient":"right","labels":false,"title":null,"values":[100,200,300]}},"text":{"field":"t"}}}
]}]}]},

{"bounds":"flush","spacing":160,"hconcat":[{"width":1,"height":1,"view":{"stroke":null,"fill":null},"data":{"name":"z"},"mark":{"type":"rule","opacity":0},"encoding":{}},{"bounds":"flush","spacing":521,"vconcat":[{"width":1,"height":1,"view":{"stroke":null,"fill":null},"data":{"name":"z"},"mark":{"type":"rule","opacity":0},"encoding":{}},
{"width":379,"height":370,"resolve":{"axis":{"x":"independent","y":"independent"}},"encoding":{"x":{"field":"x","type":"quantitative","scale":{"domain":[9.12,50.88]},"axis":null},"y":{"field":"y","type":"quantitative","scale":{"domain":[147.75,252]},"axis":null}},
"layer":[
{"data":{"name":"c"},"mark":{"type":"line","strokeOpacity":0},"encoding":{"x":{"field":"x","type":"quantitative","scale":{"domain":[9.12,50.88]},"axis":{"title":"Gas Flux [sccm]","values":[10,30,50],"format":".2~f"}},"y":{"field":"y","type":"quantitative","scale":{"domain":[147.75,252]},"axis":{"title":"Temperature [C°]","values":[150,200,250],"format":".2~f"}},"fill":{"field":"v","type":"quantitative","legend":null,"scale":{"domain":[-48,-44,-38,-33,-27,-22,-16,-11,-8,-5,-2,3,8,13,18,23,28,33,38,43,48,53,58,63,68],"range":["#3F5FEC","#4765EE","#5776EE","#6C88EE","#7F98F0","#98AEF3","#AFC1F5","#C5D2F7","#D5DDF8","#E2E8FA","#F0F3FB","#F5F5E8","#F8F8DA","#FAFAC4","#FBFBAE","#FBFA98","#FAF680","#F9F268","#F7EB58","#F4DF50","#EFC848","#E8B040","#E09A36","#D6802E","#C86426"]}},"detail":{"field":"r"},"order":{"value":null}}},
{"data":{"name":"c"},"transform":[{"filter":"!datum.c"}],"mark":{"type":"line","interpolate":"catmull-rom","stroke":"#1f2a55","strokeOpacity":0.45,"strokeWidth":1.8},"encoding":{"detail":{"field":"r"},"order":{"value":null}}},
{"data":{"values":[{"x":11.4,"y":240.9,"t":"c)"},{"x":21.3,"y":240.9,"t":"H"},{"x":27.3,"y":240.9,"t":"(Flow)"}]},"mark":{"type":"text","align":"left","baseline":"middle","font":"Liberation Serif","fontWeight":"bold","fontSize":42,"color":"#222222"},"encoding":{"x":{"field":"x","type":"quantitative","scale":{"domain":[9.12,50.88]},"axis":{"orient":"top","labels":false,"title":null,"values":[10,30,50]}},"y":{"field":"y","type":"quantitative","scale":{"domain":[147.75,252]},"axis":{"orient":"right","labels":false,"title":null,"values":[150,200,250]}},"text":{"field":"t"}}},
{"data":{"values":[{"x":24.8,"y":236.8,"t":"2"}]},"mark":{"type":"text","align":"left","baseline":"middle","font":"Liberation Serif","fontWeight":"bold","fontSize":26,"color":"#222222"},"encoding":{"text":{"field":"t"}}}
]}]}]},

{"bounds":"flush","spacing":683,"hconcat":[{"width":1,"height":1,"view":{"stroke":null,"fill":null},"data":{"name":"z"},"mark":{"type":"rule","opacity":0},"encoding":{}},{"bounds":"flush","spacing":527,"vconcat":[{"width":1,"height":1,"view":{"stroke":null,"fill":null},"data":{"name":"z"},"mark":{"type":"rule","opacity":0},"encoding":{}},
{"width":369,"height":370,"resolve":{"axis":{"x":"independent","y":"independent"}},"encoding":{"x":{"field":"x","type":"quantitative","scale":{"domain":[0.466,2.03]},"axis":null},"y":{"field":"y","type":"quantitative","scale":{"domain":[95.5,304.5]},"axis":null}},
"layer":[
{"data":{"name":"d"},"mark":{"type":"line","strokeOpacity":0},"encoding":{"x":{"field":"x","type":"quantitative","scale":{"domain":[0.466,2.03]},"axis":{"title":"Time [hours]","values":[0.5,1,1.5,2],"format":".2~f"}},"y":{"field":"y","type":"quantitative","scale":{"domain":[95.5,304.5]},"axis":{"title":"Temperature [C°]","values":[100,200,300],"format":".2~f"}},"fill":{"field":"v","type":"quantitative","legend":null,"scale":{"domain":[-48,-44,-38,-33,-27,-22,-16,-11,-8,-5,-2,3,8,13,18,23,28,33,38,43,48,53,58,63,68],"range":["#3F5FEC","#4765EE","#5776EE","#6C88EE","#7F98F0","#98AEF3","#AFC1F5","#C5D2F7","#D5DDF8","#E2E8FA","#F0F3FB","#F5F5E8","#F8F8DA","#FAFAC4","#FBFBAE","#FBFA98","#FAF680","#F9F268","#F7EB58","#F4DF50","#EFC848","#E8B040","#E09A36","#D6802E","#C86426"]}},"detail":{"field":"r"},"order":{"value":null}}},
{"data":{"name":"d"},"transform":[{"filter":"!datum.c"}],"mark":{"type":"line","interpolate":"catmull-rom","stroke":"#1f2a55","strokeOpacity":0.45,"strokeWidth":1.8},"encoding":{"detail":{"field":"r"},"order":{"value":null}}},
{"data":{"values":[{"x":0.524,"y":286.4,"t":"d)"},{"x":0.805,"y":286.4,"t":"Forming Gas"}]},"mark":{"type":"text","align":"left","baseline":"middle","font":"Liberation Serif","fontWeight":"bold","fontSize":42,"color":"#222222"},"encoding":{"x":{"field":"x","type":"quantitative","scale":{"domain":[0.466,2.03]},"axis":{"orient":"top","labels":false,"title":null,"values":[0.5,1,1.5,2]}},"y":{"field":"y","type":"quantitative","scale":{"domain":[95.5,304.5]},"axis":{"orient":"right","labels":false,"title":null,"values":[100,200,300]}},"text":{"field":"t"}}}
]}]}]},

{"bounds":"flush","spacing":1200,"hconcat":[{"width":1,"height":1,"view":{"stroke":null,"fill":null},"data":{"name":"z"},"mark":{"type":"rule","opacity":0},"encoding":{}},{"bounds":"flush","spacing":527,"vconcat":[{"width":1,"height":1,"view":{"stroke":null,"fill":null},"data":{"name":"z"},"mark":{"type":"rule","opacity":0},"encoding":{}},
{"width":380,"height":380,"resolve":{"axis":{"x":"independent","y":"independent"}},"encoding":{"x":{"field":"x","type":"quantitative","scale":{"domain":[0.2335,1.0165]},"axis":null},"y":{"field":"y","type":"quantitative","scale":{"domain":[9.56,30.44]},"axis":null}},
"layer":[
{"data":{"name":"i"},"mark":{"type":"line","strokeOpacity":0},"encoding":{"x":{"field":"x","type":"quantitative","scale":{"domain":[0.2335,1.0165]},"axis":{"title":"Time [hours]","values":[0.25,0.5,0.75,1],"format":".2~f","titlePadding":12}},"y":{"field":"y","type":"quantitative","scale":{"domain":[9.56,30.44]},"axis":{"title":"Power [W]","values":[10,20,30],"format":".2~f","titlePadding":7}},"fill":{"field":"v","type":"quantitative","legend":null,"scale":{"domain":[-48,-44,-38,-33,-27,-22,-16,-11,-8,-5,-2,3,8,13,18,23,28,33,38,43,48,53,58,63,68],"range":["#3F5FEC","#4765EE","#5776EE","#6C88EE","#7F98F0","#98AEF3","#AFC1F5","#C5D2F7","#D5DDF8","#E2E8FA","#F0F3FB","#F5F5E8","#F8F8DA","#FAFAC4","#FBFBAE","#FBFA98","#FAF680","#F9F268","#F7EB58","#F4DF50","#EFC848","#E8B040","#E09A36","#D6802E","#C86426"]}},"detail":{"field":"r"},"order":{"value":null}}},
{"data":{"name":"i"},"transform":[{"filter":"!datum.c"}],"mark":{"type":"line","interpolate":"catmull-rom","stroke":"#1f2a55","strokeOpacity":0.45,"strokeWidth":1.8},"encoding":{"detail":{"field":"r"},"order":{"value":null}}},
{"data":{"values":[{"x":0.284,"y":28.59,"t":"i)"},{"x":0.436,"y":28.59,"t":"H"},{"x":0.551,"y":28.59,"t":"(Plasma)"}]},"mark":{"type":"text","align":"left","baseline":"middle","font":"Liberation Serif","fontWeight":"bold","fontSize":42,"color":"#222222"},"encoding":{"x":{"field":"x","type":"quantitative","scale":{"domain":[0.2335,1.0165]},"axis":{"orient":"top","labels":false,"title":null,"values":[0.25,0.5,0.75,1]}},"y":{"field":"y","type":"quantitative","scale":{"domain":[9.56,30.44]},"axis":{"orient":"right","labels":false,"title":null,"values":[10,20,30]}},"text":{"field":"t"}}},
{"data":{"values":[{"x":0.506,"y":27.8,"t":"2"}]},"mark":{"type":"text","align":"left","baseline":"middle","font":"Liberation Serif","fontWeight":"bold","fontSize":26,"color":"#222222"},"encoding":{"text":{"field":"t"}}}
]}]}]},

{"bounds":"flush","spacing":1717,"hconcat":[{"width":1,"height":1,"view":{"stroke":null,"fill":null},"data":{"name":"z"},"mark":{"type":"rule","opacity":0},"encoding":{}},{"bounds":"flush","spacing":527,"vconcat":[{"width":1,"height":1,"view":{"stroke":null,"fill":null},"data":{"name":"z"},"mark":{"type":"rule","opacity":0},"encoding":{}},
{"width":380,"height":380,"resolve":{"axis":{"x":"independent","y":"independent"}},"encoding":{"x":{"field":"x","type":"quantitative","scale":{"domain":[0.2314,1.0165]},"axis":null},"y":{"field":"y","type":"quantitative","scale":{"domain":[9.56,30.44]},"axis":null}},
"layer":[
{"data":{"name":"j"},"mark":{"type":"line","strokeOpacity":0},"encoding":{"x":{"field":"x","type":"quantitative","scale":{"domain":[0.2314,1.0165]},"axis":{"title":"Time [hours]","values":[0.25,0.5,0.75,1],"format":".2~f","titlePadding":12}},"y":{"field":"y","type":"quantitative","scale":{"domain":[9.56,30.44]},"axis":{"title":"Power [W]","values":[10,20,30],"format":".2~f","titlePadding":7}},"fill":{"field":"v","type":"quantitative","legend":null,"scale":{"domain":[-48,-44,-38,-33,-27,-22,-16,-11,-8,-5,-2,3,8,13,18,23,28,33,38,43,48,53,58,63,68],"range":["#3F5FEC","#4765EE","#5776EE","#6C88EE","#7F98F0","#98AEF3","#AFC1F5","#C5D2F7","#D5DDF8","#E2E8FA","#F0F3FB","#F5F5E8","#F8F8DA","#FAFAC4","#FBFBAE","#FBFA98","#FAF680","#F9F268","#F7EB58","#F4DF50","#EFC848","#E8B040","#E09A36","#D6802E","#C86426"]}},"detail":{"field":"r"},"order":{"value":null}}},
{"data":{"name":"j"},"transform":[{"filter":"!datum.c"}],"mark":{"type":"line","interpolate":"catmull-rom","stroke":"#1f2a55","strokeOpacity":0.45,"strokeWidth":1.8},"encoding":{"detail":{"field":"r"},"order":{"value":null}}},
{"data":{"values":[{"x":0.264,"y":28.59,"t":"j)"},{"x":0.415,"y":28.59,"t":"Ar (Plasma)"}]},"mark":{"type":"text","align":"left","baseline":"middle","font":"Liberation Serif","fontWeight":"bold","fontSize":42,"color":"#222222"},"encoding":{"x":{"field":"x","type":"quantitative","scale":{"domain":[0.2314,1.0165]},"axis":{"orient":"top","labels":false,"title":null,"values":[0.25,0.5,0.75,1]}},"y":{"field":"y","type":"quantitative","scale":{"domain":[9.56,30.44]},"axis":{"orient":"right","labels":false,"title":null,"values":[10,20,30]}},"text":{"field":"t"}}}
]}]}]},

{"bounds":"flush","spacing":168,"hconcat":[{"width":1,"height":1,"view":{"stroke":null,"fill":null},"data":{"name":"z"},"mark":{"type":"rule","opacity":0},"encoding":{}},{"bounds":"flush","spacing":1019,"vconcat":[{"width":1,"height":1,"view":{"stroke":null,"fill":null},"data":{"name":"z"},"mark":{"type":"rule","opacity":0},"encoding":{}},
{"width":370,"height":370,"resolve":{"axis":{"x":"independent","y":"independent"}},"encoding":{"x":{"field":"x","type":"quantitative","scale":{"domain":[0.466,2.03]},"axis":null},"y":{"field":"y","type":"quantitative","scale":{"domain":[147.74,252.26]},"axis":null}},
"layer":[
{"data":{"name":"e"},"mark":{"type":"line","strokeOpacity":0},"encoding":{"x":{"field":"x","type":"quantitative","scale":{"domain":[0.466,2.03]},"axis":{"title":"Gas Pressure [Torr]","values":[0.5,1,1.5,2],"format":".2~f","titlePadding":14}},"y":{"field":"y","type":"quantitative","scale":{"domain":[147.74,252.26]},"axis":{"title":"Temperature [C°]","values":[150,200,250],"format":".2~f"}},"fill":{"field":"v","type":"quantitative","legend":null,"scale":{"domain":[-48,-44,-38,-33,-27,-22,-16,-11,-8,-5,-2,3,8,13,18,23,28,33,38,43,48,53,58,63,68],"range":["#3F5FEC","#4765EE","#5776EE","#6C88EE","#7F98F0","#98AEF3","#AFC1F5","#C5D2F7","#D5DDF8","#E2E8FA","#F0F3FB","#F5F5E8","#F8F8DA","#FAFAC4","#FBFBAE","#FBFA98","#FAF680","#F9F268","#F7EB58","#F4DF50","#EFC848","#E8B040","#E09A36","#D6802E","#C86426"]}},"detail":{"field":"r"},"order":{"value":null}}},
{"data":{"name":"e"},"transform":[{"filter":"!datum.c"}],"mark":{"type":"line","interpolate":"catmull-rom","stroke":"#1f2a55","strokeOpacity":0.45,"strokeWidth":1.8},"encoding":{"detail":{"field":"r"},"order":{"value":null}}},
{"data":{"values":[{"x":0.518,"y":244.6,"t":"e)"},{"x":0.765,"y":244.6,"t":"H"},{"x":1.002,"y":244.6,"t":"(Pressure)"}]},"mark":{"type":"text","align":"left","baseline":"middle","font":"Liberation Serif","fontWeight":"bold","fontSize":42,"color":"#222222"},"encoding":{"x":{"field":"x","type":"quantitative","scale":{"domain":[0.466,2.03]},"axis":{"orient":"top","labels":false,"title":null,"values":[0.5,1,1.5,2]}},"y":{"field":"y","type":"quantitative","scale":{"domain":[147.74,252.26]},"axis":{"orient":"right","labels":false,"title":null,"values":[150,200,250]}},"text":{"field":"t"}}},
{"data":{"values":[{"x":0.906,"y":240.7,"t":"2"}]},"mark":{"type":"text","align":"left","baseline":"middle","font":"Liberation Serif","fontWeight":"bold","fontSize":26,"color":"#222222"},"encoding":{"text":{"field":"t"}}}
]}]}]},

{"bounds":"flush","spacing":683,"hconcat":[{"width":1,"height":1,"view":{"stroke":null,"fill":null},"data":{"name":"z"},"mark":{"type":"rule","opacity":0},"encoding":{}},{"bounds":"flush","spacing":1021,"vconcat":[{"width":1,"height":1,"view":{"stroke":null,"fill":null},"data":{"name":"z"},"mark":{"type":"rule","opacity":0},"encoding":{}},
{"width":369,"height":370,"resolve":{"axis":{"x":"independent","y":"independent"}},"encoding":{"x":{"field":"x","type":"quantitative","scale":{"domain":[0.466,2.03]},"axis":null},"y":{"field":"y","type":"quantitative","scale":{"domain":[95.5,304.5]},"axis":null}},
"layer":[
{"data":{"name":"f"},"mark":{"type":"line","strokeOpacity":0},"encoding":{"x":{"field":"x","type":"quantitative","scale":{"domain":[0.466,2.03]},"axis":{"title":"Gas Pressure [Torr]","values":[0.5,1,1.5,2],"format":".2~f","titlePadding":12}},"y":{"field":"y","type":"quantitative","scale":{"domain":[95.5,304.5]},"axis":{"title":"Temperature [C°]","values":[100,200,300],"format":".2~f"}},"fill":{"field":"v","type":"quantitative","legend":null,"scale":{"domain":[-48,-44,-38,-33,-27,-22,-16,-11,-8,-5,-2,3,8,13,18,23,28,33,38,43,48,53,58,63,68],"range":["#3F5FEC","#4765EE","#5776EE","#6C88EE","#7F98F0","#98AEF3","#AFC1F5","#C5D2F7","#D5DDF8","#E2E8FA","#F0F3FB","#F5F5E8","#F8F8DA","#FAFAC4","#FBFBAE","#FBFA98","#FAF680","#F9F268","#F7EB58","#F4DF50","#EFC848","#E8B040","#E09A36","#D6802E","#C86426"]}},"detail":{"field":"r"},"order":{"value":null}}},
{"data":{"name":"f"},"transform":[{"filter":"!datum.c"}],"mark":{"type":"line","interpolate":"catmull-rom","stroke":"#1f2a55","strokeOpacity":0.45,"strokeWidth":1.8},"encoding":{"detail":{"field":"r"},"order":{"value":null}}},
{"data":{"values":[{"x":0.524,"y":290.6,"t":"f)"},{"x":0.738,"y":290.6,"t":"Ar (Pressure)"}]},"mark":{"type":"text","align":"left","baseline":"middle","font":"Liberation Serif","fontWeight":"bold","fontSize":42,"color":"#222222"},"encoding":{"x":{"field":"x","type":"quantitative","scale":{"domain":[0.466,2.03]},"axis":{"orient":"top","labels":false,"title":null,"values":[0.5,1,1.5,2]}},"y":{"field":"y","type":"quantitative","scale":{"domain":[95.5,304.5]},"axis":{"orient":"right","labels":false,"title":null,"values":[100,200,300]}},"text":{"field":"t"}}}
]}]}]},

{"bounds":"flush","spacing":1379,"hconcat":[{"width":1,"height":1,"view":{"stroke":null,"fill":null},"data":{"name":"z"},"mark":{"type":"rule","opacity":0},"encoding":{}},{"bounds":"flush","spacing":1078,"vconcat":[{"width":1,"height":1,"view":{"stroke":null,"fill":null},"data":{"name":"z"},"mark":{"type":"rule","opacity":0},"encoding":{}},
{"width":668,"height":44,"view":{"stroke":null,"fill":null},"data":{"values":[{"a":-50}]},"mark":{"type":"rule","opacity":0},"encoding":{"x":{"field":"a","type":"quantitative","scale":{"domain":[-50,100]},"axis":{"title":null,"labels":false,"values":[-50,-45,-40,-35,-30,-25,-20,-15,-10,-5,0,5,10,15,20,25,30,35,40,45,50,55,60,65,70,75,80,85,90,95,100],"tickSize":5,"tickColor":"#999999","tickWidth":1}}}}]}]},

{"bounds":"flush","spacing":1379,"hconcat":[{"width":1,"height":1,"view":{"stroke":null,"fill":null},"data":{"name":"z"},"mark":{"type":"rule","opacity":0},"encoding":{}},{"bounds":"flush","spacing":1078,"vconcat":[{"width":1,"height":1,"view":{"stroke":null,"fill":null},"data":{"name":"z"},"mark":{"type":"rule","opacity":0},"encoding":{}},
{"width":668,"height":44,"view":{"stroke":null,"fill":null},
"layer":[
{"data":{"values":[{"a":-50,"b":100}]},"mark":{"type":"rect","fill":{"gradient":"linear","x1":0,"y1":0,"x2":1,"y2":0,"stops":[{"offset":0,"color":"#2E4CE6"},{"offset":0.07,"color":"#4060E8"},{"offset":0.17,"color":"#6F8DE8"},{"offset":0.27,"color":"#B5C6F2"},{"offset":0.33,"color":"#E3EBF9"},{"offset":0.42,"color":"#F3F8E6"},{"offset":0.5,"color":"#F6F8C0"},{"offset":0.58,"color":"#F8F77C"},{"offset":0.67,"color":"#F8F04E"},{"offset":0.75,"color":"#F0C040"},{"offset":0.8,"color":"#EBA638"},{"offset":0.88,"color":"#E27A2E"},{"offset":0.95,"color":"#DF3A2C"},{"offset":1,"color":"#C81E30"}]}},"encoding":{"x":{"field":"a","type":"quantitative","scale":{"domain":[-50,100]},"axis":{"title":null,"values":[-50,-25,0,25,50,75,100],"tickSize":14,"tickColor":"#999999","tickWidth":1,"labelFont":"Liberation Sans","labelFontSize":33,"labelColor":"#666666","labelPadding":18}},"x2":{"field":"b"}}},
{"data":{"values":[{"x":-90,"t":"Δρ [%]"}]},"mark":{"type":"text","align":"center","baseline":"middle","font":"Liberation Sans","fontSize":46,"color":"#333333"},"encoding":{"x":{"field":"x","type":"quantitative","scale":{"domain":[-50,100]}},"text":{"field":"t"}}}
]}]}]}
]}
